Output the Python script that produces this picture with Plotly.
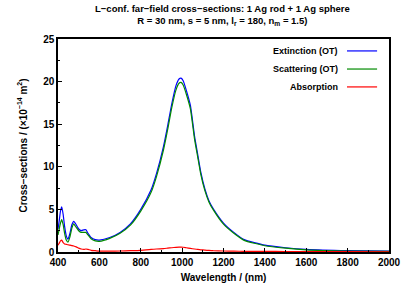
import plotly.graph_objects as go

wavelength = [400, 405, 412, 418, 425, 432, 440, 448, 458, 467, 476, 488, 500, 512, 525,
              535, 545, 560, 580, 600, 650, 700, 750, 800, 850, 876, 910, 930, 950, 970,
              985, 995, 1005, 1020, 1040, 1060, 1075, 1090, 1110, 1130, 1150, 1200, 1250,
              1300, 1400, 1500, 1600, 1800, 2000]

extinction = [2.7, 3.5, 4.8, 5.3, 4.4, 3.0, 1.9, 1.5, 2.2, 3.2, 3.6, 3.2, 2.7, 2.5, 2.6,
              2.6, 2.2, 1.7, 1.45, 1.4, 1.7, 2.3, 3.3, 5.0, 7.3, 9.2, 12.4, 14.8, 17.4, 19.5,
              20.3, 20.4, 20.1, 19.0, 17.2, 13.6, 11.5, 9.4, 7.4, 6.0, 5.1, 3.4, 2.3,
              1.45, 0.8, 0.5, 0.3, 0.15, 0.1]

scattering = [2.0, 2.6, 3.4, 3.8, 3.2, 2.2, 1.4, 1.15, 1.8, 2.8, 3.3, 2.9, 2.5, 2.3, 2.3,
              2.3, 2.0, 1.55, 1.3, 1.25, 1.6, 2.2, 3.15, 4.8, 7.0, 8.85, 12.0, 14.35, 16.95, 19.0,
              19.8, 19.9, 19.6, 18.55, 16.8, 13.25, 11.2, 9.15, 7.2, 5.85, 4.97, 3.27, 2.2,
              1.37, 0.73, 0.45, 0.26, 0.12, 0.08]

absorption = [0.8, 1.0, 1.3, 1.4, 1.1, 0.95, 0.9, 0.85, 0.8, 0.75, 0.7, 0.6, 0.45, 0.35, 0.3,
              0.35, 0.3, 0.2, 0.15, 0.1, 0.1, 0.12, 0.15, 0.2, 0.3, 0.35, 0.4, 0.45, 0.5, 0.55,
              0.58, 0.58, 0.56, 0.5, 0.42, 0.35, 0.3, 0.26, 0.22, 0.18, 0.15, 0.12, 0.1,
              0.08, 0.07, 0.06, 0.05, 0.04, 0.03]

series_names = ["Extinction (OT)", "Scattering (OT)", "Absorption"]
series_colors = ["#0000ff", "#008a00", "#ff0000"]
series_values = [extinction, scattering, absorption]

font_family = "Liberation Sans, Arial, sans-serif"

fig = go.Figure()
for name, color, vals in zip(series_names, series_colors, series_values):
    fig.add_trace(go.Scatter(x=wavelength, y=vals, mode="lines", name=name,
                             line=dict(color=color, width=1.2, shape="spline", smoothing=0.5),
                             showlegend=False))

# custom legend: right-aligned text with a line sample to its right
legend_y = [0.944, 0.859, 0.775]
for name, color, ly in zip(series_names, series_colors, legend_y):
    fig.add_annotation(x=0.852, y=ly, xref="paper", yref="paper", text=name,
                       showarrow=False, xanchor="right", yanchor="middle",
                       font=dict(size=9, color="black", family=font_family, weight="bold"))
    fig.add_shape(type="line", xref="paper", yref="paper", x0=0.873, x1=0.964, y0=ly, y1=ly,
                  line=dict(color=color, width=1.2))

# two-line title
title_text = ("L\u2212conf. far\u2212field cross\u2212sections: 1 Ag rod + 1 Ag sphere<br>"
              "R = 30 nm, s = 5 nm, l<sub>r</sub> = 180, n<sub>m</sub> = 1.5)")
fig.add_annotation(x=0.497, y=1.113, xref="paper", yref="paper", text=title_text, showarrow=False,
                   xanchor="center", yanchor="middle",
                   font=dict(size=9.5, color="black", family=font_family, weight="bold"))

fig.update_layout(
    width=403, height=286,
    margin=dict(l=58, r=14, t=39, b=34, autoexpand=False),
    paper_bgcolor="white", plot_bgcolor="white",
    font=dict(family=font_family, size=10, color="black", weight="bold"),
    xaxis=dict(range=[400, 2000], dtick=200, tick0=400, showgrid=False, zeroline=False,
               automargin=False,
               showline=True, linecolor="black", linewidth=1.5, mirror=True,
               ticks="inside", ticklen=4, tickcolor="black",
               minor=dict(dtick=100, ticks="inside", ticklen=2, tickcolor="black"),
               tickfont=dict(size=10, family=font_family, weight="bold"),
               title=dict(text="Wavelength / (nm)", standoff=7,
                          font=dict(size=10, family=font_family, weight="bold"))),
    yaxis=dict(range=[0, 25], dtick=5, showgrid=False, zeroline=False,
               automargin=False,
               showline=True, linecolor="black", linewidth=1.5, mirror=True,
               ticks="inside", ticklen=4, tickcolor="black",
               minor=dict(dtick=2.5, ticks="inside", ticklen=2, tickcolor="black"),
               tickfont=dict(size=10, family=font_family, weight="bold"),
               title=dict(text="Cross\u2212sections / (\u00d710<sup>\u221214</sup> m<sup>2</sup>)",
                          standoff=14, font=dict(size=10, family=font_family, weight="bold"))),
)

fig.write_html("out.html", config={"displayModeBar": False},
               post_script="document.body.style.margin='0px';document.body.style.overflow='hidden';")
